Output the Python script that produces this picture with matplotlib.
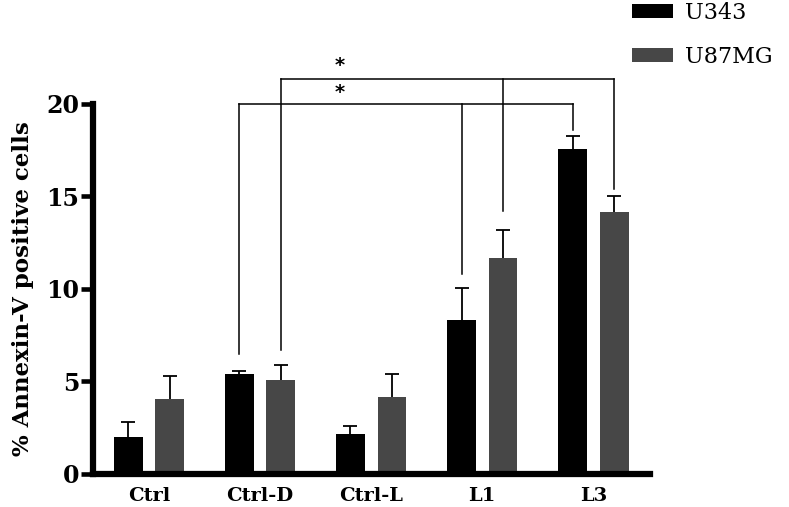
import matplotlib
matplotlib.use("Agg")
import matplotlib.pyplot as plt
import numpy as np
from matplotlib.patches import Patch

categories = ["Ctrl", "Ctrl-D", "Ctrl-L", "L1", "L3"]
u343 = [2.0, 5.4, 2.15, 8.3, 17.55]
u343_err = [0.8, 0.16, 0.43, 1.75, 0.7]
u87mg = [4.05, 5.1, 4.15, 11.7, 14.15]
u87mg_err = [1.27, 0.8, 1.27, 1.5, 0.85]
series_names = ["U343", "U87MG"]
yticks = [0, 5, 10, 15, 20]

fig = plt.figure(figsize=(7.89, 5.07), dpi=100)
ax = fig.add_axes([0.1179, 0.0651, 0.8238 - 0.1179, 0.7949 - 0.0651])

x = np.arange(len(categories))
w = 0.26
off = 0.187
black = "#000000"
gray = "#474747"

ax.bar(x - off, u343, w, color=black, zorder=2)
ax.bar(x + off, u87mg, w, color=gray, zorder=2)
ekw = dict(fmt="none", ecolor="black", elinewidth=1.3, capsize=5, capthick=1.3, zorder=1)
for xs, vals, errs in [(x - off, u343, u343_err), (x + off, u87mg, u87mg_err)]:
    eb = ax.errorbar(xs, vals, yerr=[np.zeros(len(x)), errs], **ekw)
    caps = eb[1]
    if len(caps) == 2:
        caps[0].set_visible(False)

ax.set_xlim(-0.505, 4.51)
ax.set_ylim(0, 20)

for s in ["top", "right"]:
    ax.spines[s].set_visible(False)
ax.spines["left"].set_linewidth(4.5)
ax.spines["bottom"].set_linewidth(4.5)
ax.spines["left"].set_capstyle("projecting")
ax.spines["bottom"].set_capstyle("projecting")

ax.set_yticks(yticks)
ax.set_yticklabels([str(t) for t in yticks], fontsize=17, fontweight="bold", family="DejaVu Serif")
ax.tick_params(axis="y", length=9, width=3.3, pad=1)
ax.set_xticks(x)
ax.set_xticklabels(categories, fontsize=14, fontweight="bold", family="DejaVu Serif")
ax.tick_params(axis="x", length=0, pad=9.5)

ax.set_ylabel("% Annexin-V positive cells", fontsize=16.5, fontweight="bold",
              family="DejaVu Serif", labelpad=9)

# significance brackets
def bracket(xs, tops, ybar):
    for xi, t in zip(xs, tops):
        ax.plot([xi, xi], [t, ybar], color="black", lw=1.1, clip_on=False, zorder=3)
    ax.plot([min(xs), max(xs)], [ybar, ybar], color="black", lw=1.1, clip_on=False, zorder=3)

bracket([1 - off, 3 - off, 4 - off], [6.5, 10.8, 18.6], 19.99)
bracket([1 + off, 3 + off, 4 + off], [6.7, 14.2, 15.4], 21.33)
ax.text(1.72, 20.1, "*", ha="center", va="bottom", fontsize=14, fontweight="bold", clip_on=False)
ax.text(1.72, 21.55, "*", ha="center", va="bottom", fontsize=14, fontweight="bold", clip_on=False)

handles = [Patch(facecolor=black), Patch(facecolor=gray)]
fig.legend(handles, series_names, loc="upper left", bbox_to_anchor=(632 / 789, 1 - 2 / 507),
           frameon=False, prop={"family": "DejaVu Serif", "size": 16},
           borderpad=0, borderaxespad=0,
           handlelength=1.85, handleheight=0.6, handletextpad=0.55, labelspacing=1.0)

fig.savefig("out.png", dpi=100)
